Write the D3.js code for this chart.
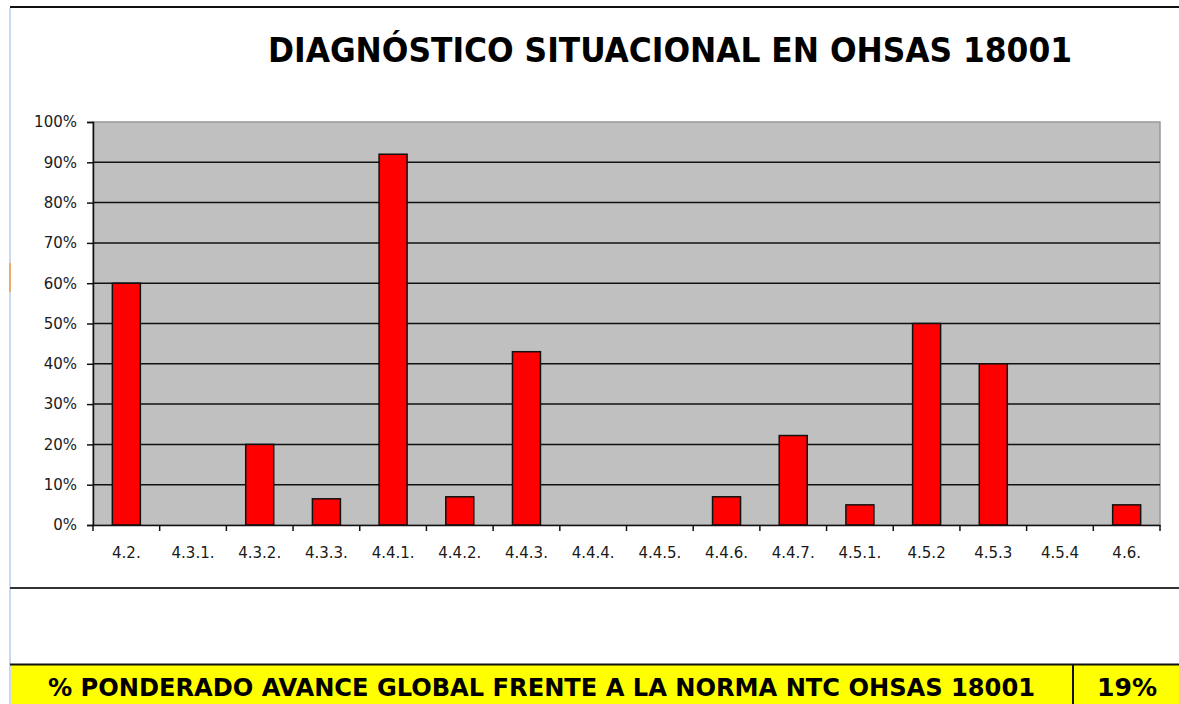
<!DOCTYPE html>
<html>
<head>
  <style>
    body {
      margin: 0;
      background: #fff;
      font-family: "DejaVu Sans", sans-serif;
    }
    .tick text {
      font-family: "DejaVu Sans", sans-serif;
      font-size: 15px;
      fill: #1a1a1a;
    }
    .title {
      font-family: "DejaVu Sans Condensed", "DejaVu Sans", sans-serif;
      font-weight: bold;
      font-size: 34px;
    }
    .total {
      font-family: "DejaVu Sans Condensed", "DejaVu Sans", sans-serif;
      font-weight: bold;
      font-size: 24px;
    }
  </style>
</head>
<body>
  <script src="https://d3js.org/d3.v7.min.js"></script>
  <script>
    var categories = ["4.2.", "4.3.1.", "4.3.2.", "4.3.3.", "4.4.1.", "4.4.2.", "4.4.3.", "4.4.4.",
                      "4.4.5.", "4.4.6.", "4.4.7.", "4.5.1.", "4.5.2", "4.5.3", "4.5.4", "4.6."];
    var values = [0.60, 0, 0.20, 0.065, 0.92, 0.07, 0.43, 0, 0, 0.07, 0.222, 0.05, 0.50, 0.40, 0, 0.05];
    var yTicks = [0, 0.1, 0.2, 0.3, 0.4, 0.5, 0.6, 0.7, 0.8, 0.9, 1];
    var titleText = "DIAGNÓSTICO SITUACIONAL EN OHSAS 18001";
    var totalLabel = "% PONDERADO AVANCE GLOBAL FRENTE A LA NORMA NTC OHSAS 18001";
    var totalValue = "19%";

    var W = 1179, H = 704;
    var svg = d3.select("body").append("svg")
        .attr("width", W)
        .attr("height", H);

    // sheet frame
    svg.append("line").attr("x1", 10).attr("x2", W).attr("y1", 7).attr("y2", 7)
        .attr("stroke", "#111").attr("stroke-width", 2);
    svg.append("line").attr("x1", 10).attr("x2", 10).attr("y1", 8).attr("y2", H)
        .attr("stroke", "#b8cce4").attr("stroke-width", 1.5);
    svg.append("line").attr("x1", 10).attr("x2", 10).attr("y1", 263).attr("y2", 292)
        .attr("stroke", "#f0a040").attr("stroke-width", 1.5);

    svg.append("text")
        .attr("class", "title")
        .attr("x", 268)
        .attr("y", 62)
        .attr("textLength", 804)
        .attr("lengthAdjust", "spacingAndGlyphs")
        .text(titleText);

    var plotL = 93, plotR = 1160, plotT = 122, plotB = 525;

    var x = d3.scaleBand()
      .domain(categories)
      .range([plotL, plotR])
      .paddingInner(0.58)
      .paddingOuter(0.29);

    var y = d3.scaleLinear()
      .domain([0, 1])
      .range([plotB, plotT]);

    // plot area
    svg.append("rect")
        .attr("x", plotL).attr("y", plotT)
        .attr("width", plotR - plotL).attr("height", plotB - plotT)
        .attr("fill", "#c0c0c0")
        .attr("stroke", "#999").attr("stroke-width", 1.5);

    svg.append("g")
        .selectAll("line")
        .data(yTicks.filter(function(d){ return d > 0 && d < 1; }))
        .enter().append("line")
          .attr("x1", plotL).attr("x2", plotR)
          .attr("y1", function(d){ return y(d); })
          .attr("y2", function(d){ return y(d); })
          .attr("stroke", "#111").attr("stroke-width", 1.5);

    svg.selectAll(".bar")
        .data(values)
        .enter().append("rect")
          .attr("class", "bar")
          .attr("x", function(d, i){ return x(categories[i]); })
          .attr("y", function(d){ return y(d); })
          .attr("width", x.bandwidth())
          .attr("height", function(d){ return plotB - y(d); })
          .attr("fill", function(d){ return d > 0 ? "#ff0000" : "none"; })
          .attr("stroke", function(d){ return d > 0 ? "#111" : "none"; })
          .attr("stroke-width", 1.5);

    var yAxis = d3.axisLeft(y)
      .tickValues(yTicks)
      .tickFormat(d3.format(".0%"))
      .tickSize(6)
      .tickPadding(10);

    svg.append("g")
        .attr("class", "y axis")
        .attr("transform", "translate(" + plotL + ",0)")
        .call(yAxis)
        .call(function(g){
          g.select(".domain").attr("stroke", "#111").attr("stroke-width", 1.5);
          g.selectAll(".tick line").attr("stroke", "#111").attr("stroke-width", 1.5);
        });

    var xAxis = d3.axisBottom(x)
      .tickSize(0)
      .tickPadding(22);

    svg.append("g")
        .attr("class", "x axis")
        .attr("transform", "translate(0," + plotB + ")")
        .call(xAxis)
        .call(function(g){
          g.select(".domain").attr("stroke", "#111").attr("stroke-width", 1.5);
        });

    // category separators on the x axis
    var step = x.step();
    svg.append("g")
        .selectAll("line")
        .data(d3.range(categories.length + 1))
        .enter().append("line")
          .attr("x1", function(i){ return plotL + i * step; })
          .attr("x2", function(i){ return plotL + i * step; })
          .attr("y1", plotB).attr("y2", plotB + 6)
          .attr("stroke", "#111").attr("stroke-width", 1.5);

    // footer
    svg.append("line").attr("x1", 10).attr("x2", W).attr("y1", 588).attr("y2", 588)
        .attr("stroke", "#333").attr("stroke-width", 2);
    svg.append("rect").attr("x", 11).attr("y", 665).attr("width", W - 11).attr("height", H - 665)
        .attr("fill", "#ffff00");
    svg.append("line").attr("x1", 10).attr("x2", W).attr("y1", 664.5).attr("y2", 664.5)
        .attr("stroke", "#111").attr("stroke-width", 2);
    svg.append("line").attr("x1", 1073).attr("x2", 1073).attr("y1", 665).attr("y2", H)
        .attr("stroke", "#111").attr("stroke-width", 2);

    svg.append("text")
        .attr("class", "total")
        .attr("x", 48).attr("y", 696)
        .attr("textLength", 987)
        .attr("lengthAdjust", "spacingAndGlyphs")
        .text(totalLabel);
    svg.append("text")
        .attr("class", "total")
        .attr("x", 1097).attr("y", 696)
        .attr("textLength", 60)
        .attr("lengthAdjust", "spacingAndGlyphs")
        .text(totalValue);
  </script>
</body>
</html>
